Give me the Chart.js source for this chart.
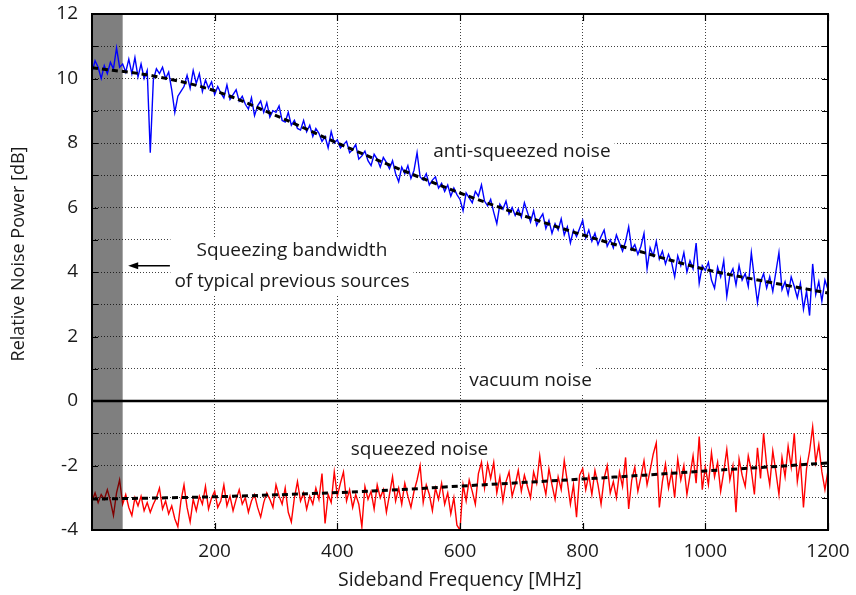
<!DOCTYPE html>
<html><head><meta charset="utf-8">
<script src="https://cdn.jsdelivr.net/npm/chart.js@4.4.1/dist/chart.umd.min.js"></script>
<style>html,body{margin:0;padding:0;background:#fff;overflow:hidden}</style>
</head><body>
<canvas id="c" width="856" height="595"></canvas>
<script>
// ---- data ----
const freqMHz = [
0,5,10,15,20,25,30,35,40,45,50,55,60,65,70,75,80,85,90,95,
100,105,110,115,120,125,130,135,140,145,150,155,160,165,170,175,180,185,190,195,
200,205,210,215,220,225,230,235,240,245,250,255,260,265,270,275,280,285,290,295,
300,305,310,315,320,325,330,335,340,345,350,355,360,365,370,375,380,385,390,395,
400,405,410,415,420,425,430,435,440,445,450,455,460,465,470,475,480,485,490,495,
500,505,510,515,520,525,530,535,540,545,550,555,560,565,570,575,580,585,590,595,
600,605,610,615,620,625,630,635,640,645,650,655,660,665,670,675,680,685,690,695,
700,705,710,715,720,725,730,735,740,745,750,755,760,765,770,775,780,785,790,795,
800,805,810,815,820,825,830,835,840,845,850,855,860,865,870,875,880,885,890,895,
900,905,910,915,920,925,930,935,940,945,950,955,960,965,970,975,980,985,990,995,
1000,1005,1010,1015,1020,1025,1030,1035,1040,1045,1050,1055,1060,1065,1070,1075,1080,1085,1090,1095,
1100,1105,1110,1115,1120,1125,1130,1135,1140,1145,1150,1155,1160,1165,1170,1175,1180,1185,1190,1195,1200];

const antiSqueezedDB = [
10.2,10.55,10.35,10.0,10.4,10.15,10.5,10.3,10.95,10.35,10.45,10.2,10.6,10.15,10.65,10.05,10.45,10.0,10.25,7.7,
9.95,10.3,10.15,10.35,10.0,10.2,9.65,8.95,9.45,9.6,9.75,10.1,9.7,10.25,9.85,10.15,9.6,9.95,9.7,9.9,
9.5,9.75,9.55,9.4,9.8,9.35,9.5,9.65,9.3,9.45,9.2,9.05,9.4,8.85,9.15,9.3,8.95,9.25,8.8,9.0,
8.95,9.15,8.7,8.65,8.95,8.55,8.7,8.45,8.4,8.7,8.35,8.55,8.2,8.45,8.3,8.05,8.2,7.85,8.35,8.0,
8.1,7.85,7.95,8.05,7.7,7.8,7.95,7.5,7.6,7.75,7.45,7.3,7.65,7.5,7.25,7.55,7.4,7.2,7.45,7.05,
6.8,7.25,7.05,7.3,6.9,7.15,7.7,6.95,6.85,7.05,6.7,6.85,6.95,6.6,6.75,6.5,6.7,6.35,6.6,6.4,
6.25,5.9,6.45,6.3,6.15,6.5,6.35,6.7,6.2,6.05,6.25,5.85,5.5,6.1,5.95,6.2,5.8,6.0,5.75,5.95,
5.7,6.15,5.85,5.55,5.9,5.45,5.65,5.8,5.35,5.6,5.2,5.5,5.3,5.65,5.15,5.4,4.9,5.3,5.1,5.35,
5.6,5.05,5.3,4.95,5.2,4.85,5.1,5.3,4.8,5.0,4.75,5.15,4.9,4.65,4.95,5.4,4.7,4.85,4.55,4.8,
5.2,4.1,4.75,4.5,4.95,4.4,4.65,4.25,4.55,4.3,3.85,4.5,4.2,4.6,4.0,4.35,4.1,4.9,3.65,4.2,
4.05,4.3,3.75,3.5,4.15,3.85,4.35,3.25,3.9,4.1,3.6,4.2,3.75,3.95,3.55,4.6,3.8,3.05,3.7,3.95,
3.5,3.85,3.4,4.0,4.6,3.45,3.7,3.3,3.85,3.55,3.2,3.65,2.85,3.4,2.65,4.25,3.3,3.7,3.1,3.75,3.45];

const squeezedDB = [
-3.1,-2.85,-3.15,-2.9,-3.05,-2.75,-3.1,-3.55,-2.85,-2.45,-3.2,-2.9,-3.3,-3.55,-3.0,-3.25,-2.95,-3.4,-3.15,-3.45,
-3.2,-3.0,-2.7,-3.35,-3.1,-3.5,-3.25,-3.65,-3.9,-3.1,-2.6,-3.3,-3.75,-3.05,-3.4,-2.95,-3.2,-2.65,-3.35,-3.0,
-2.8,-3.3,-3.1,-2.6,-3.25,-2.95,-3.4,-3.05,-2.75,-3.2,-3.0,-3.45,-3.1,-2.9,-3.3,-3.6,-3.15,-2.85,-3.05,-3.3,
-2.6,-2.95,-3.2,-2.7,-3.45,-3.75,-3.0,-2.5,-3.1,-2.85,-3.35,-2.95,-3.2,-2.7,-3.05,-2.25,-3.8,-2.9,-3.15,-2.2,
-2.95,-2.55,-2.2,-3.1,-2.75,-3.3,-2.9,-3.2,-3.9,-2.65,-3.05,-2.8,-3.35,-2.6,-3.0,-2.75,-3.45,-2.9,-2.35,-3.1,
-2.7,-3.2,-2.55,-2.95,-3.3,-2.8,-2.45,-2.0,-3.15,-2.6,-2.9,-3.4,-2.7,-3.05,-2.55,-3.2,-2.85,-3.5,-3.0,-3.85,
-4.0,-2.6,-3.1,-2.45,-2.8,-3.2,-2.25,-1.9,-2.7,-1.95,-2.4,-1.9,-2.85,-2.35,-3.1,-2.5,-2.2,-2.95,-2.6,-2.15,
-2.8,-2.3,-2.65,-3.0,-2.2,-2.55,-1.7,-2.45,-2.9,-2.1,-2.6,-3.05,-2.35,-2.75,-1.85,-2.5,-3.2,-2.6,-3.6,-2.3,
-2.1,-2.75,-2.3,-2.9,-2.15,-2.6,-3.2,-2.4,-2.0,-2.85,-2.5,-3.0,-2.2,-2.65,-1.75,-3.35,-2.45,-2.05,-2.8,-2.35,
-1.85,-2.6,-2.15,-1.65,-1.3,-3.3,-2.5,-1.95,-2.7,-2.2,-3.0,-1.8,-2.45,-2.0,-2.9,-2.3,-1.7,-2.55,-1.1,-2.75,
-2.05,-2.6,-1.6,-2.35,-1.9,-2.8,-2.2,-1.5,-2.45,-2.0,-3.45,-1.8,-2.3,-2.65,-1.7,-2.15,-2.9,-1.45,-2.4,-1.0,
-2.0,-2.6,-1.55,-2.2,-2.9,-1.75,-2.35,-1.4,-2.05,-1.0,-2.5,-1.85,-3.3,-2.1,-1.55,-0.8,-1.9,-1.35,-2.2,-2.75,-2.15];

const fitFreqMHz   = [0,100,200,300,400,500,600,700,800,900,1000,1100,1200];
const antiFitDB    = [10.33,10.08,9.62,8.85,8.0,7.2,6.45,5.77,5.15,4.6,4.08,3.7,3.35];
const squeezedFitDB= [-3.04,-3.01,-2.97,-2.91,-2.84,-2.75,-2.64,-2.53,-2.42,-2.3,-2.17,-2.05,-1.92];
const vacuumFreqMHz = [0,1200];
const vacuumDB      = [0,0];
const xTickLabels = [200,400,600,800,1000,1200];
const yTickLabels = [-4,-2,0,2,4,6,8,10,12];
const previousBandwidthMHz = 50;

const pts = (xs, ys) => xs.map((x,i)=>({x, y: ys[i]}));

const FONT = '"Open Sans", "DejaVu Sans", sans-serif';
const TXT = '#1a1a1a';

function annotations(chart){
  const xs = chart.scales.x, ys = chart.scales.y;
  return [
    {lines:['Squeezing bandwidth','of typical previous sources'], x: xs.getPixelForValue(326), y: ys.getPixelForValue(4.17), gap: 31},
    {lines:['anti-squeezed noise'], x: xs.getPixelForValue(701), y: ys.getPixelForValue(7.72), gap: 0},
    {lines:['vacuum noise'], x: xs.getPixelForValue(715), y: ys.getPixelForValue(0.62), gap: 0},
    {lines:['squeezed noise'], x: xs.getPixelForValue(534), y: ys.getPixelForValue(-1.52), gap: 0}
  ];
}

function drawBand(chart){
  const c = chart.ctx, xs = chart.scales.x, A = chart.chartArea;
  const bx = xs.getPixelForValue(previousBandwidthMHz);
  c.save();
  c.fillStyle = 'rgba(0,0,0,0.5)';
  c.fillRect(A.left, A.top, bx - A.left, A.bottom - A.top);
  c.restore();
}

const decor = {
  id: 'decor',
  beforeDraw(chart){
    const c = chart.ctx; c.save(); c.fillStyle = '#fff'; c.fillRect(0,0,chart.width,chart.height); c.restore();
  },
  beforeDatasetsDraw(chart){
    const c = chart.ctx; c.save();
    c.font = '19px ' + FONT;
    c.fillStyle = '#fff';
    for (const a of annotations(chart)) {
      const w = Math.max(...a.lines.map(l => c.measureText(l).width)) + 8;
      const n = a.lines.length;
      const top = a.y - (n-1)*a.gap/2 - 13;
      const h = (n-1)*a.gap + 26;
      c.fillRect(a.x - w/2, top, w, h);
    }
    c.restore();
  },
  afterDatasetDraw(chart, args){
    // shaded band goes over the squeezed trace, under the others
    if (args.index === 4) drawBand(chart);
  },
  afterDatasetsDraw(chart){
    const c = chart.ctx, xs = chart.scales.x, ys = chart.scales.y, A = chart.chartArea;
    c.save();
    c.strokeStyle = '#000'; c.lineWidth = 2;
    c.strokeRect(A.left, A.top, A.right - A.left, A.bottom - A.top);
    c.lineWidth = 1.2;
    c.beginPath();
    for (let v = -4; v <= 12; v++) {
      const y = Math.round(ys.getPixelForValue(v)) + 0.5;
      c.moveTo(A.left, y); c.lineTo(A.left + 6, y);
      c.moveTo(A.right, y); c.lineTo(A.right - 6, y);
    }
    for (const v of xTickLabels) {
      const x = Math.round(xs.getPixelForValue(v)) + 0.5;
      c.moveTo(x, A.bottom); c.lineTo(x, A.bottom - 7);
      c.moveTo(x, A.top); c.lineTo(x, A.top + 7);
    }
    c.stroke();
    const ax0 = xs.getPixelForValue(127), ax1 = xs.getPixelForValue(59), ay = ys.getPixelForValue(4.19);
    c.lineWidth = 1.5;
    c.beginPath(); c.moveTo(ax0, ay); c.lineTo(ax1 + 6, ay); c.stroke();
    c.fillStyle = '#000';
    c.beginPath(); c.moveTo(ax1, ay); c.lineTo(ax1 + 10, ay - 3.5); c.lineTo(ax1 + 10, ay + 3.5); c.closePath(); c.fill();
    c.font = '19px ' + FONT; c.fillStyle = TXT; c.textAlign = 'center'; c.textBaseline = 'middle';
    for (const a of annotations(chart)) {
      const n = a.lines.length;
      a.lines.forEach((l,i) => c.fillText(l, a.x, a.y - (n-1)*a.gap/2 + i*a.gap));
    }
    c.restore();
  }
};

new Chart(document.getElementById('c'), {
  type: 'line',
  data: {
    datasets: [
      {label:'anti-squeezed fit', data: pts(fitFreqMHz, antiFitDB), borderColor:'#000', borderWidth:3, borderDash:[6,4], pointRadius:0, cubicInterpolationMode:'monotone', fill:false},
      {label:'squeezed fit', data: pts(fitFreqMHz, squeezedFitDB), borderColor:'#000', borderWidth:3, borderDash:[6,4], pointRadius:0, cubicInterpolationMode:'monotone', fill:false},
      {label:'vacuum noise', data: pts(vacuumFreqMHz, vacuumDB), borderColor:'#000', borderWidth:2.5, pointRadius:0, fill:false},
      {label:'anti-squeezed noise', data: pts(freqMHz, antiSqueezedDB), borderColor:'#0000ff', borderWidth:1.4, pointRadius:0, tension:0, fill:false},
      {label:'squeezed noise', data: pts(freqMHz, squeezedDB), borderColor:'#ff0000', borderWidth:1.4, pointRadius:0, tension:0, fill:false}
    ]
  },
  options: {
    responsive: false, animation: false, devicePixelRatio: 1,
    layout: {padding: {top: 14, right: 28, left: 0, bottom: 0}},
    plugins: {legend: {display:false}, tooltip: {enabled:false}},
    scales: {
      x: {
        type: 'linear', min: 0, max: 1200,
        afterFit: s => { s.height = 65; s.paddingLeft = 0; s.paddingRight = 0; },
        ticks: {stepSize: 200, padding: 10, color: TXT, font: {family: FONT, size: 19},
                callback: v => xTickLabels.includes(v) ? String(v) : ''},
        grid: {color: 'rgba(0,0,0,0.75)', lineWidth: 1, drawTicks: false},
        border: {display: false, dash: [1,2]},
        title: {display: true, text: 'Sideband Frequency [MHz]', color: TXT, font: {family: FONT, size: 19.5}, padding: {top: 2, bottom: 3}}
      },
      y: {
        type: 'linear', min: -4, max: 12,
        afterFit: s => { s.width = 92; s.paddingTop = 0; s.paddingBottom = 0; },
        ticks: {stepSize: 1, padding: 14, color: TXT, font: {family: FONT, size: 19},
                callback: v => yTickLabels.includes(v) ? String(v) : ''},
        grid: {color: 'rgba(0,0,0,0.75)', lineWidth: 1, drawTicks: false},
        border: {display: false, dash: [1,2]},
        title: {display: true, text: '\u2002\u2002\u2002\u2002Relative Noise Power [dB]', color: TXT, font: {family: FONT, size: 18}, padding: {top: 8, bottom: 2}}
      }
    }
  },
  plugins: [decor]
});
</script>
</body></html>
